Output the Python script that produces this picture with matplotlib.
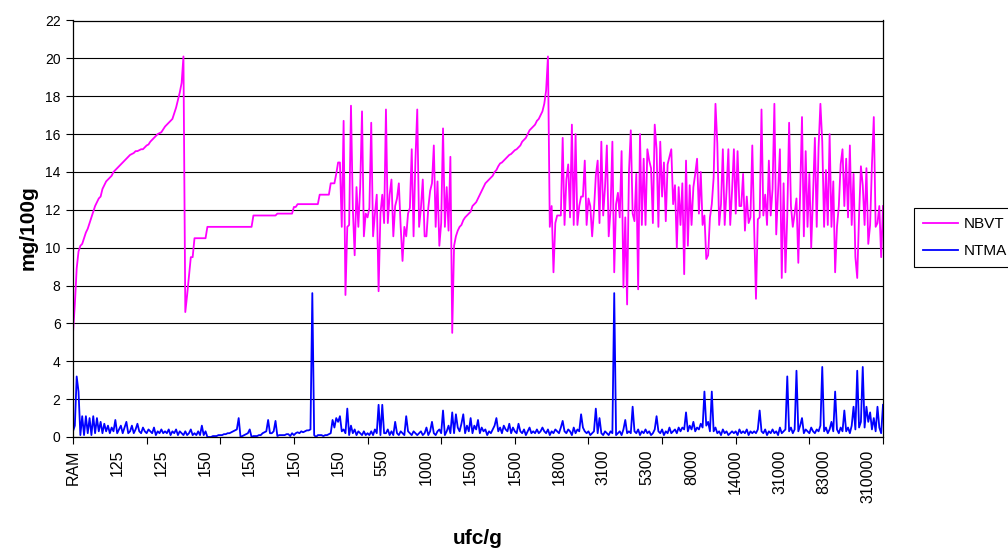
import matplotlib
matplotlib.use("Agg")
import matplotlib.pyplot as plt
import numpy as np

# Kategorietiketter (ufc/g)
x_labels = ["RAM", "125", "125", "150", "150", "150", "150", "550", "1000", "1500",
            "1500", "1800", "3100", "5300", "8000", "14000", "31000", "83000", "310000"]

# NBVT (mg/100g), avläst i delar
nbvt_rise1 = [5.5, 7.0, 8.9, 9.8, 10.1, 10.2, 10.5, 10.8, 11.0, 11.3,
              11.6, 11.9, 12.2, 12.4, 12.6, 12.7, 13.1, 13.3, 13.5, 13.6,
              13.7, 13.8, 14.0, 14.1, 14.2, 14.3, 14.4, 14.5, 14.6, 14.7,
              14.8, 14.9, 14.95, 15.0, 15.1, 15.1, 15.15, 15.2, 15.2, 15.3,
              15.4, 15.45, 15.6, 15.7, 15.8, 15.9, 16.0, 16.05, 16.1, 16.25,
              16.4, 16.5, 16.6, 16.7, 16.8, 17.1, 17.4, 17.8, 18.2, 18.7,
              20.1]

nbvt_plateau = [6.6, 7.5, 8.5, 9.5, 9.5, 10.5, 10.5, 10.5, 10.5, 10.5, 10.5, 10.5,
                11.1, 11.1, 11.1, 11.1, 11.1, 11.1, 11.1, 11.1, 11.1, 11.1,
                11.1, 11.1, 11.1, 11.1, 11.1, 11.1, 11.1, 11.1, 11.1, 11.1,
                11.1, 11.1, 11.1, 11.1, 11.1,
                11.7, 11.7, 11.7, 11.7, 11.7, 11.7, 11.7, 11.7, 11.7, 11.7,
                11.7, 11.7, 11.7,
                11.8, 11.8, 11.8, 11.8, 11.8, 11.8, 11.8, 11.8, 11.8,
                12.15, 12.15,
                12.3, 12.3, 12.3, 12.3, 12.3, 12.3, 12.3, 12.3, 12.3, 12.3, 12.3, 12.3,
                12.8, 12.8, 12.8, 12.8, 12.8, 12.8,
                13.4, 13.4, 13.4, 13.9, 14.5, 14.5]

nbvt_noise1 = [11.1, 16.7, 7.5, 11.1, 11.2, 17.5, 12.1, 9.6, 13.2, 11.1,
               13.2, 17.2, 10.6, 11.8, 11.6, 12.1, 16.6, 10.6, 11.8, 12.8,
               7.7, 11.8, 12.8, 11.3, 17.3, 11.3, 12.8, 13.6, 10.6, 12.2,
               12.6, 13.4, 11.1, 9.3, 11.1, 10.6, 11.8, 12.1, 15.2, 10.6,
               14.6, 17.3, 11.1, 12.1, 13.6, 10.6, 10.6, 12.1, 13.0, 13.4,
               15.4, 11.1, 13.5, 10.1, 11.3, 16.3, 11.1, 13.2, 10.9, 14.8]

nbvt_rise2 = [5.5, 10.1, 10.6, 10.9, 11.1, 11.2, 11.45, 11.6, 11.7, 11.8,
              11.9, 12.2, 12.3, 12.4, 12.6, 12.8, 13.0, 13.2, 13.4, 13.5,
              13.6, 13.7, 13.8, 14.0, 14.1, 14.3, 14.45, 14.5, 14.6, 14.7,
              14.8, 14.9, 14.95, 15.05, 15.15, 15.2, 15.3, 15.4, 15.6, 15.7,
              15.8, 16.0, 16.2, 16.3, 16.4, 16.5, 16.7, 16.8, 17.0, 17.2,
              17.6, 18.3, 20.1]

nbvt_noise2 = [11.1, 12.2, 8.7, 11.3, 11.7, 11.7, 11.7, 15.8, 11.2, 13.6,
               14.4, 11.6, 16.5, 11.2, 16.0, 11.2, 12.2, 12.7, 12.7, 14.6,
               11.2, 12.6, 12.2, 10.6, 12.0, 13.8, 14.6, 11.3, 15.6, 11.7,
               13.2, 15.4, 10.6, 12.0, 15.6, 8.7, 12.3, 12.9, 11.6, 15.1,
               7.9, 11.6, 7.0, 14.0, 16.2, 11.8, 11.4, 13.9, 7.8, 16.0,
               11.2, 14.7, 11.2, 15.2, 14.6, 14.2, 11.3, 16.5, 15.2, 11.1,
               15.6, 12.7, 14.5,
               11.4, 14.4, 14.8, 15.2, 12.3, 13.3, 10.0, 13.2, 11.2, 13.4,
               8.6, 14.6, 10.1, 13.3, 11.2, 13.2, 13.9, 14.7, 11.8, 14.0,
               11.2, 11.7, 9.4, 9.6, 11.6, 12.3, 13.7, 17.6, 15.5, 11.2,
               12.3, 15.2, 11.2, 13.0, 15.2, 11.2, 13.0, 15.2, 11.8, 15.1,
               12.2, 12.2, 13.9, 10.9, 12.7, 11.3, 11.6, 15.4, 11.1, 7.3,
               11.5, 11.6, 17.3, 11.7, 12.8, 11.2, 14.6, 11.7, 13.1, 17.6,
               10.7, 13.0, 15.2,
               8.4, 13.4, 8.7, 11.7, 16.6, 12.2, 11.1, 11.8, 12.6, 9.2,
               12.9, 16.9, 10.6, 15.1, 11.1, 13.9, 10.0, 12.8, 15.8, 11.1,
               15.3, 17.6, 15.6, 11.1, 14.1, 11.2, 16.0, 11.1, 13.5, 8.7,
               11.1, 12.2, 14.4, 15.2, 12.2, 14.7, 11.6, 15.4, 11.2, 13.9,
               9.5, 8.4, 11.7, 14.3, 13.3, 11.2, 14.2, 10.2, 11.2, 14.4,
               16.9, 11.1, 11.3, 12.2, 9.5, 12.2]

# NTMA (mg/100g)
ntma = [0.3, 0.6, 3.2, 2.4, 0.1, 1.1, 0.1, 1.1, 0.2, 1.0,
        0.1, 1.1, 0.2, 1.0, 0.3, 0.8, 0.2, 0.7, 0.3, 0.6,
        0.2, 0.5, 0.3, 0.9, 0.2, 0.4, 0.6, 0.2, 0.5, 0.8,
        0.2, 0.3, 0.6, 0.2, 0.4, 0.7, 0.3, 0.2, 0.5, 0.3,
        0.2, 0.4, 0.3, 0.2, 0.5, 0.1, 0.3, 0.2, 0.4, 0.2,
        0.3, 0.2, 0.4, 0.1, 0.3, 0.2, 0.4, 0.1, 0.3, 0.2,
        0.1, 0.3, 0.1, 0.2, 0.4, 0.1, 0.2, 0.1, 0.3, 0.1,
        0.6, 0.1, 0.3, 0.0, 0.0, 0.0, 0.05, 0.05, 0.05, 0.1,
        0.1, 0.1, 0.15, 0.15, 0.2, 0.2, 0.25, 0.3, 0.35, 0.4,
        1.0, 0.0, 0.05, 0.1, 0.15, 0.2, 0.4, 0.0, 0.05, 0.05,
        0.05, 0.1, 0.1, 0.2, 0.25, 0.3, 0.9, 0.2, 0.2, 0.3,
        0.85, 0.05, 0.1, 0.1, 0.1, 0.1, 0.15, 0.15, 0.05, 0.2,
        0.1, 0.2, 0.25, 0.2, 0.3, 0.25, 0.3, 0.35, 0.35, 0.4,
        7.6, 0.1, 0.0, 0.1, 0.1, 0.1, 0.05, 0.1, 0.1, 0.15,
        0.2, 0.9, 0.5, 1.0, 0.8, 1.1, 0.3, 0.4, 0.2, 1.5,
        0.1, 0.6, 0.2, 0.4, 0.1, 0.3, 0.2, 0.1, 0.3, 0.1,
        0.2, 0.1, 0.3, 0.1, 0.4, 0.2, 1.7, 0.1, 1.7, 0.2,
        0.2, 0.4, 0.1, 0.3, 0.1, 0.8, 0.2, 0.1, 0.3, 0.2,
        0.1, 1.1, 0.3, 0.2, 0.1, 0.3, 0.2, 0.1, 0.2, 0.3,
        0.1, 0.2, 0.5, 0.1, 0.3, 0.8, 0.2, 0.1, 0.3, 0.4,
        0.2, 1.4, 0.1, 0.3, 0.6, 0.2, 1.3, 0.2, 1.2, 0.5,
        0.3, 0.7, 1.2, 0.2, 0.6, 0.3, 1.0, 0.2, 0.6, 0.4,
        0.9, 0.2, 0.5, 0.3, 0.4, 0.1, 0.3, 0.2, 0.4, 0.6,
        1.0, 0.3, 0.5, 0.2, 0.6, 0.4, 0.3, 0.7, 0.2, 0.5,
        0.3, 0.2, 0.7, 0.3, 0.2, 0.4, 0.1, 0.3, 0.5, 0.2,
        0.3, 0.2, 0.4, 0.2, 0.3, 0.5, 0.3, 0.2, 0.4, 0.1,
        0.3, 0.2, 0.4, 0.3, 0.2, 0.5, 0.85, 0.3, 0.2, 0.4,
        0.3, 0.1, 0.5, 0.2, 0.4, 0.3, 1.2, 0.5, 0.3, 0.2,
        0.3, 0.1, 0.2, 0.3, 1.5, 0.2, 1.0, 0.2, 0.1, 0.3,
        0.2, 0.1, 0.3, 0.2, 7.6, 0.1, 0.2, 0.3, 0.1, 0.4,
        0.9, 0.2, 0.3, 0.2, 1.6, 0.3, 0.2, 0.4, 0.1, 0.3,
        0.2, 0.4, 0.2, 0.3, 0.1, 0.2, 0.4, 1.1, 0.3, 0.2,
        0.4, 0.1, 0.3, 0.2, 0.5, 0.2, 0.3, 0.4, 0.2, 0.5,
        0.3, 0.5, 0.4, 1.3, 0.3, 0.6, 0.4, 0.8, 0.3, 0.5,
        0.4, 0.7, 0.5, 2.4, 0.6, 0.8, 0.3, 2.4, 0.3, 0.5,
        0.2, 0.3, 0.1, 0.4, 0.2, 0.3, 0.1, 0.2, 0.3, 0.2,
        0.3, 0.1, 0.4, 0.2, 0.3, 0.2, 0.4, 0.1, 0.3, 0.2,
        0.3, 0.2, 0.4, 1.4, 0.3, 0.2, 0.4, 0.1, 0.3, 0.2,
        0.4, 0.2, 0.3, 0.1, 0.5, 0.2, 0.3, 0.4, 3.2, 0.3,
        0.5, 0.2, 0.4, 3.5, 0.3, 0.6, 1.0, 0.2, 0.4, 0.3,
        0.2, 0.5, 0.3, 0.2, 0.4, 0.3, 0.6, 3.7, 0.3, 0.5,
        0.2, 0.4, 0.8, 0.3, 2.4, 0.4, 0.2, 0.5, 0.3, 1.4,
        0.3, 0.5, 0.2, 0.6, 1.6, 0.4, 3.5, 0.5, 0.8, 3.7,
        0.5, 1.6, 0.8, 1.3, 0.4, 1.0, 0.3, 1.6, 0.5, 0.2, 1.7]

nbvt = nbvt_rise1 + nbvt_plateau + nbvt_noise1 + nbvt_rise2 + nbvt_noise2

plt.rcParams["font.family"] = ["Liberation Sans", "DejaVu Sans"]

W, H = 1008, 550
fig = plt.figure(figsize=(W / 100, H / 100), dpi=100)
ax = fig.add_axes([73 / W, 1 - 437 / H, (883 - 73) / W, (437 - 20.5) / H])

ax.plot(np.arange(len(nbvt)), nbvt, color="#FF00FF", lw=1.3, label="NBVT")
ax.plot(np.arange(len(ntma)), ntma, color="#0000FF", lw=1.3, label="NTMA")

n_last = max(len(nbvt), len(ntma)) - 1
ax.set_xlim(0, n_last)
ax.set_ylim(0, 22)
ax.set_yticks(range(0, 23, 2))
ax.yaxis.grid(True, color="black", lw=0.8)
ax.set_axisbelow(True)
ax.tick_params(axis="y", labelsize=10, length=5, width=0.8, pad=4)

# tickstreck var 40:e punkt, etiketter var 24:e
ax.xaxis.remove_overlapping_locs = False
ax.set_xticks(np.arange(0, n_last + 1, 40))
ax.set_xticklabels([])
ax.set_xticks(np.arange(0, 24 * len(x_labels), 24), minor=True)
ax.set_xticklabels(x_labels, minor=True, rotation=90, fontsize=11.5)
ax.tick_params(axis="x", which="major", length=5, width=0.8, direction="out")
ax.tick_params(axis="x", which="minor", length=0, pad=9)

for sp in ax.spines.values():
    sp.set_color("black")
    sp.set_linewidth(0.9)

fig.text(28 / W, 1 - 228 / H, "mg/100g", rotation=90, fontsize=15,
         fontweight="bold", ha="center", va="center")
fig.text(478 / W, 1 - 538 / H, "ufc/g", fontsize=15, fontweight="bold",
         ha="center", va="center")

leg = fig.legend(loc="upper left", bbox_to_anchor=(914 / W, 1 - 208 / H),
                 fontsize=11, frameon=True, fancybox=False, edgecolor="black",
                 framealpha=1, handlelength=2.3, handletextpad=0.35,
                 labelspacing=0.85, borderpad=0.6, borderaxespad=0)
leg.get_frame().set_linewidth(0.8)

fig.savefig("out.png", dpi=100)
